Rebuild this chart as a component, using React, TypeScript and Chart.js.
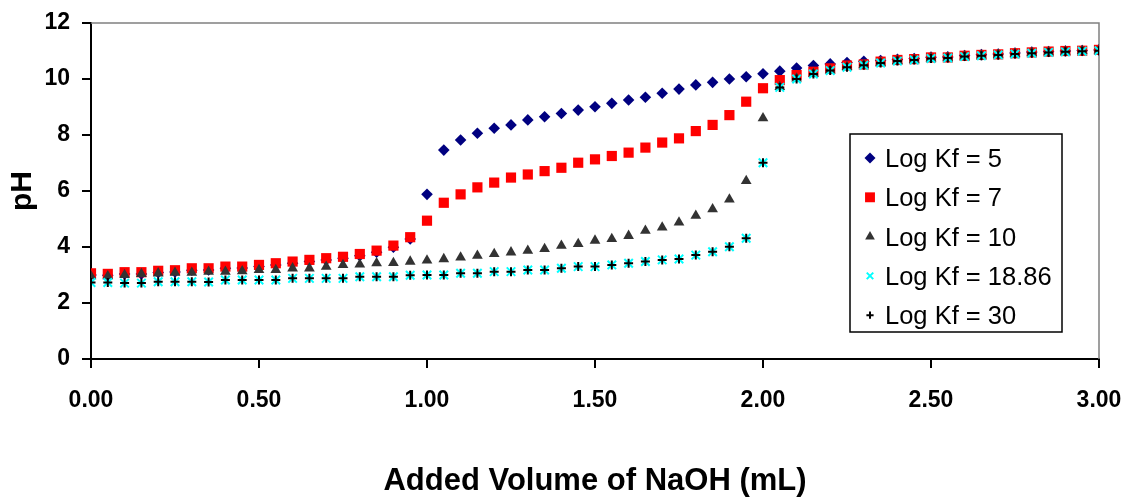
import React, { useEffect, useRef } from 'react';
import { Chart, registerables } from 'chart.js';
import { drawPoint } from 'chart.js/helpers';

Chart.register(...registerables);

// Added volume of NaOH (mL)
const volumeML = [
  0.0, 0.05, 0.1, 0.15, 0.2, 0.25, 0.3, 0.35, 0.4, 0.45,
  0.5, 0.55, 0.6, 0.65, 0.7, 0.75, 0.8, 0.85, 0.9, 0.95,
  1.0, 1.05, 1.1, 1.15, 1.2, 1.25, 1.3, 1.35, 1.4, 1.45,
  1.5, 1.55, 1.6, 1.65, 1.7, 1.75, 1.8, 1.85, 1.9, 1.95,
  2.0, 2.05, 2.1, 2.15, 2.2, 2.25, 2.3, 2.35, 2.4, 2.45,
  2.5, 2.55, 2.6, 2.65, 2.7, 2.75, 2.8, 2.85, 2.9, 2.95,
  3.0,
];

// pH for each formation constant
const phLogKf5 = [
  3.0, 2.99, 3.04, 3.04, 3.09, 3.11, 3.17, 3.18, 3.24, 3.25,
  3.3, 3.36, 3.42, 3.48, 3.54, 3.6, 3.69, 3.81, 3.99, 4.29,
  5.88, 7.46, 7.82, 8.06, 8.24, 8.36, 8.54, 8.65, 8.77, 8.89,
  9.01, 9.13, 9.25, 9.35, 9.49, 9.64, 9.79, 9.88, 10.0, 10.08,
  10.19, 10.28, 10.39, 10.48, 10.54, 10.59, 10.63, 10.66, 10.7, 10.73,
  10.78, 10.79, 10.84, 10.87, 10.89, 10.93, 10.96, 10.98, 11.0, 11.02,
  11.04,
];

const phLogKf7 = [
  3.06, 3.04, 3.1, 3.1, 3.15, 3.17, 3.24, 3.24, 3.3, 3.3,
  3.36, 3.42, 3.48, 3.54, 3.6, 3.65, 3.75, 3.87, 4.05, 4.35,
  4.94, 5.58, 5.88, 6.13, 6.3, 6.48, 6.59, 6.71, 6.83, 7.01,
  7.13, 7.25, 7.37, 7.55, 7.73, 7.88, 8.14, 8.36, 8.71, 9.19,
  9.67, 9.96, 10.14, 10.26, 10.38, 10.48, 10.52, 10.62, 10.68, 10.71,
  10.77, 10.77, 10.83, 10.86, 10.88, 10.92, 10.95, 10.98, 11.0, 11.01,
  11.04,
];

const phLogKf10 = [
  2.96, 2.96, 3.0, 3.04, 3.06, 3.08, 3.08, 3.12, 3.12, 3.14,
  3.18, 3.18, 3.24, 3.24, 3.3, 3.36, 3.38, 3.42, 3.43, 3.48,
  3.52, 3.57, 3.63, 3.69, 3.75, 3.81, 3.87, 3.93, 4.05, 4.11,
  4.23, 4.29, 4.4, 4.58, 4.7, 4.88, 5.12, 5.35, 5.7, 6.36,
  8.6, 9.72, 10.02, 10.19, 10.31, 10.43, 10.5, 10.58, 10.65, 10.69,
  10.74, 10.76, 10.81, 10.84, 10.87, 10.9, 10.93, 10.96, 10.98, 11.0,
  11.02,
];

const phLogKf1886 = [
  2.73, 2.73, 2.71, 2.71, 2.76, 2.76, 2.76, 2.75, 2.82, 2.82,
  2.82, 2.82, 2.88, 2.88, 2.88, 2.88, 2.94, 2.94, 2.94, 2.99,
  3.0, 3.0, 3.06, 3.06, 3.12, 3.12, 3.18, 3.18, 3.24, 3.3,
  3.3, 3.36, 3.42, 3.48, 3.54, 3.57, 3.71, 3.83, 4.01, 4.31,
  7.01, 9.7, 10.0, 10.18, 10.3, 10.42, 10.49, 10.57, 10.64, 10.68,
  10.73, 10.75, 10.8, 10.83, 10.86, 10.89, 10.92, 10.95, 10.97, 10.99,
  11.01,
];

const phLogKf30 = [
  2.73, 2.73, 2.71, 2.71, 2.76, 2.76, 2.76, 2.75, 2.82, 2.82,
  2.82, 2.82, 2.88, 2.88, 2.88, 2.88, 2.94, 2.94, 2.94, 2.99,
  3.0, 3.0, 3.06, 3.06, 3.12, 3.12, 3.18, 3.18, 3.24, 3.3,
  3.3, 3.36, 3.42, 3.48, 3.54, 3.57, 3.71, 3.83, 4.01, 4.31,
  7.01, 9.7, 10.0, 10.18, 10.3, 10.42, 10.49, 10.57, 10.64, 10.68,
  10.73, 10.75, 10.8, 10.83, 10.86, 10.89, 10.92, 10.95, 10.97, 10.99,
  11.01,
];

const seriesLabels = ['Log Kf = 5', 'Log Kf = 7', 'Log Kf = 10', 'Log Kf = 18.86', 'Log Kf = 30'];

const FONT = '"Liberation Sans", Arial, sans-serif';

const toPoints = (ys: number[]) => ys.map((y, i) => ({ x: volumeML[i], y }));

type MarkerStyle = {
  color: string;
  pointStyle: string;
  radius: number;
  borderWidth: number;
  legendRadius: number;
};

const markerStyles: MarkerStyle[] = [
  { color: '#000080', pointStyle: 'rectRot', radius: 5.8, borderWidth: 0, legendRadius: 5.5 },
  { color: '#FF0000', pointStyle: 'rect', radius: 7.2, borderWidth: 0, legendRadius: 7 },
  { color: '#333333', pointStyle: 'triangle', radius: 6.2, borderWidth: 0, legendRadius: 5.6 },
  { color: '#00FFFF', pointStyle: 'crossRot', radius: 6, borderWidth: 2, legendRadius: 4.6 },
  { color: '#000000', pointStyle: 'cross', radius: 4.5, borderWidth: 2, legendRadius: 3.6 },
];

// Gray frame on the top and right of the plot area
const plotFrame = {
  id: 'plotFrame',
  beforeDatasetsDraw(chart: any) {
    const { ctx, chartArea } = chart;
    ctx.save();
    ctx.strokeStyle = '#808080';
    ctx.lineWidth = 1.5;
    ctx.beginPath();
    ctx.moveTo(chartArea.left, chartArea.top);
    ctx.lineTo(chartArea.right, chartArea.top);
    ctx.lineTo(chartArea.right, chartArea.bottom);
    ctx.stroke();
    ctx.restore();
  },
};

// Boxed legend placed inside the plot area
const insetLegend = {
  id: 'insetLegend',
  afterDatasetsDraw(chart: any) {
    const { ctx, chartArea } = chart;
    const boxLeft = chartArea.right - 249;
    const boxTop = chartArea.top + 111;
    const boxW = 212;
    const boxH = 198;
    ctx.save();
    ctx.fillStyle = '#ffffff';
    ctx.fillRect(boxLeft, boxTop, boxW, boxH);
    ctx.strokeStyle = '#000000';
    ctx.lineWidth = 1.5;
    ctx.strokeRect(boxLeft, boxTop, boxW, boxH);
    ctx.font = `normal 25.5px ${FONT}`;
    ctx.textBaseline = 'alphabetic';
    ctx.textAlign = 'left';
    chart.data.datasets.forEach((ds: any, i: number) => {
      const m = markerStyles[i];
      const cy = boxTop + 24 + i * 39.3;
      ctx.fillStyle = m.color;
      ctx.strokeStyle = m.color;
      ctx.lineWidth = m.borderWidth;
      drawPoint(
        ctx,
        { pointStyle: m.pointStyle as any, radius: m.legendRadius, borderWidth: m.borderWidth, rotation: 0 },
        boxLeft + 20,
        cy
      );
      ctx.fillStyle = '#000000';
      ctx.fillText(ds.label, boxLeft + 35, cy + 9);
    });
    ctx.restore();
  },
};

export default function App() {
  const canvasRef = useRef<HTMLCanvasElement | null>(null);

  useEffect(() => {
    if (!canvasRef.current) return;
    const seriesValues = [phLogKf5, phLogKf7, phLogKf10, phLogKf1886, phLogKf30];
    const chart = new Chart(canvasRef.current, {
      type: 'scatter',
      data: {
        datasets: seriesValues.map((vals, i) => ({
          label: seriesLabels[i],
          data: toPoints(vals),
          showLine: false,
          pointStyle: markerStyles[i].pointStyle as any,
          pointRadius: markerStyles[i].radius,
          pointHoverRadius: markerStyles[i].radius,
          pointBackgroundColor: markerStyles[i].color,
          pointBorderColor: markerStyles[i].color,
          pointBorderWidth: markerStyles[i].borderWidth,
          order: seriesValues.length - i,
        })),
      },
      options: {
        animation: false,
        responsive: true,
        maintainAspectRatio: false,
        layout: { padding: { top: 23, right: 25, left: 0, bottom: 0 } },
        plugins: {
          legend: { display: false },
          tooltip: { enabled: false },
        },
        scales: {
          x: {
            type: 'linear',
            min: 0,
            max: 3,
            afterFit: (scale: any) => {
              scale.height = 139;
              scale.paddingLeft = 0;
              scale.paddingRight = 0;
            },
            ticks: {
              stepSize: 0.5,
              padding: 19,
              color: '#000',
              font: { family: FONT, size: 23, weight: 'bold' },
              callback: (v: any) => Number(v).toFixed(2),
            },
            grid: {
              display: true,
              drawOnChartArea: false,
              drawTicks: true,
              tickLength: 9,
              color: '#000',
              lineWidth: 2,
            },
            border: { display: true, color: '#000', width: 2 },
            title: {
              display: true,
              text: 'Added Volume of NaOH (mL)',
              color: '#000',
              font: { family: FONT, size: 31, weight: 'bold', lineHeight: 1.05 },
              padding: { top: 4, bottom: 0 },
            },
          },
          y: {
            type: 'linear',
            min: 0,
            max: 12,
            afterFit: (scale: any) => {
              scale.width = 91;
              scale.paddingTop = 0;
              scale.paddingBottom = 0;
            },
            ticks: {
              stepSize: 2,
              padding: 12,
              color: '#000',
              font: { family: FONT, size: 23, weight: 'bold' },
            },
            grid: {
              display: true,
              drawOnChartArea: false,
              drawTicks: true,
              tickLength: 9,
              color: '#000',
              lineWidth: 2,
            },
            border: { display: true, color: '#000', width: 2 },
            title: {
              display: true,
              text: 'pH',
              color: '#000',
              font: { family: FONT, size: 30, weight: 'bold' },
              padding: { top: 4.5, bottom: 0 },
            },
          },
        },
      },
      plugins: [plotFrame, insetLegend],
    });
    return () => chart.destroy();
  }, []);

  return (
    <div style={{ position: 'fixed', left: 0, top: 0, width: 1124, height: 498, background: '#fff' }}>
      <canvas ref={canvasRef} />
    </div>
  );
}
